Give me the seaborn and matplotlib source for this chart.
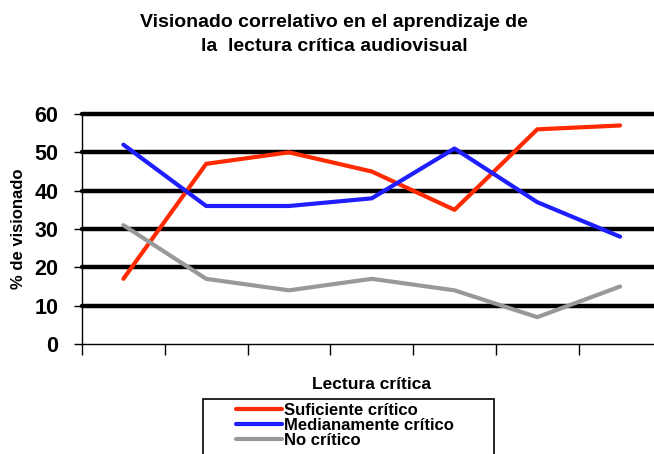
import numpy as np
import pandas as pd
import matplotlib
matplotlib.use("Agg")
import matplotlib.pyplot as plt
from matplotlib.patches import Rectangle
import seaborn as sns

# datos
categorias = [1, 2, 3, 4, 5, 6, 7]
suficiente = [17, 47, 50, 45, 35, 56, 57]
medianamente = [52, 36, 36, 38, 51, 37, 28]
no_critico = [31, 17, 14, 17, 14, 7, 15]
series = ["Suficiente crítico", "Medianamente crítico", "No crítico"]
colores = ["#FF2A00", "#1E1EFF", "#999999"]

df = pd.DataFrame({
    "cat": categorias * 3,
    "valor": suficiente + medianamente + no_critico,
    "serie": [s for s in series for _ in categorias],
})

sns.set_style("white")
plt.rcParams["font.family"] = ["Liberation Sans", "DejaVu Sans"]
plt.rcParams["text.color"] = "black"
plt.rcParams["axes.labelcolor"] = "black"
plt.rcParams["xtick.color"] = "black"
plt.rcParams["ytick.color"] = "black"

fig = plt.figure(figsize=(6.54, 4.54), dpi=100)
ax = fig.add_axes([0.1254, 0.2423, 0.886, 0.5066])

sns.lineplot(data=df, x="cat", y="valor", hue="serie", palette=colores,
             hue_order=series, linewidth=3, ax=ax, legend=False, zorder=3)

ax.set_xlim(0.5, 7.5)
ax.set_ylim(0, 60)
ax.set_yticks(range(0, 61, 10))
ax.set_xticks(np.arange(0.5, 8, 1))
ax.set_xticklabels([])
for t in ax.get_yticklabels():
    t.set_fontweight("bold")
    t.set_fontsize(15.5)
ax.tick_params(axis="y", length=6, width=1, color="black", pad=11, left=True)
ax.tick_params(axis="x", length=8, width=1, color="black", bottom=True, direction="out")

# líneas de división gruesas
for y in range(10, 61, 10):
    ax.axhline(y, color="black", lw=3.2, zorder=1, clip_on=False)

for s in ["top", "right"]:
    ax.spines[s].set_visible(False)
for s in ["left", "bottom"]:
    ax.spines[s].set_color("black")
    ax.spines[s].set_linewidth(1)

ax.set_xlabel("Lectura crítica", fontweight="bold", fontsize=12.5, labelpad=12)
ax.set_ylabel("% de visionado", fontweight="bold", fontsize=12, labelpad=6)

fig.text(0.511, 0.97, "Visionado correlativo en el aprendizaje de\nla  lectura crítica audiovisual",
         ha="center", va="top", fontsize=14, fontweight="bold", linespacing=1.55)

# leyenda con marco propio
fig.patches.append(Rectangle((203 / 654, -0.05), (494 - 203) / 654, (454 - 399) / 454 + 0.05,
                             transform=fig.transFigure, fill=False, edgecolor="black", lw=1.2))
handles = [plt.Line2D([], [], color=c, lw=3) for c in colores]
leg = fig.legend(handles, series, loc="upper left", bbox_to_anchor=(236 / 654, 1 - 403 / 454),
                 frameon=False, prop={"weight": "bold", "size": 12}, labelspacing=0.0,
                 handlelength=2.75, handletextpad=0.15, borderpad=0, borderaxespad=0)

fig.savefig("out.png", dpi=100)
